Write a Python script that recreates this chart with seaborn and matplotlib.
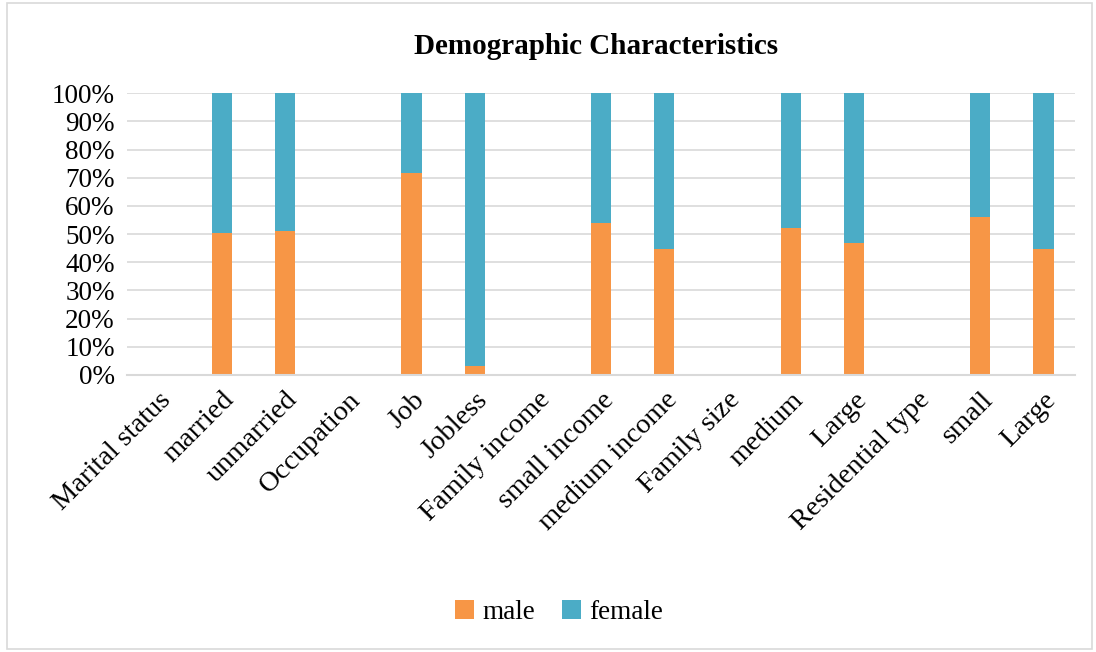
import numpy as np
import pandas as pd
import seaborn as sns
import matplotlib.pyplot as plt
from matplotlib.patches import Rectangle

categories = ['Marital status', 'married', 'unmarried', 'Occupation', 'Job', 'Jobless',
              'Family income', 'small income', 'medium income', 'Family size', 'medium',
              'Large', 'Residential type', 'small', 'Large']
# male share per category (header rows have no bar)
male = [np.nan, 50.5, 51.1, np.nan, 71.6, 3.0, np.nan, 53.9, 44.8, np.nan, 52.0, 46.7,
        np.nan, 55.9, 44.7]
female = [np.nan if np.isnan(m) else 100 - m for m in male]

df = pd.DataFrame({'pos': range(len(categories)), 'male': male, 'female': female})
df['total'] = df['male'] + df['female']

sns.set_style('white')
plt.rcParams['font.family'] = ['Liberation Serif', 'DejaVu Serif']
plt.rcParams['text.color'] = 'black'
plt.rcParams['xtick.color'] = 'black'
plt.rcParams['ytick.color'] = 'black'

fig = plt.figure(figsize=(10.96, 6.52), dpi=100)
ax = fig.add_axes([0.116, 0.425, 0.865, 0.432])

order = list(range(len(categories)))
sns.barplot(data=df, x='pos', y='total', order=order, color='#4BACC6', width=0.32,
            linewidth=0, saturation=1, ax=ax, label='female')
sns.barplot(data=df, x='pos', y='male', order=order, color='#F79646', width=0.32,
            linewidth=0, saturation=1, ax=ax, label='male')

handles, labels = ax.get_legend_handles_labels()
hmap = dict(zip(labels, handles))
if ax.get_legend() is not None:
    ax.get_legend().remove()

ax.set_ylim(0, 100)
ax.set_xlim(-0.5, len(categories) - 0.5)
ax.set_yticks(range(0, 101, 10))
ax.set_yticklabels([f'{v}%' for v in range(0, 101, 10)], fontsize=19.5)
ax.set_xticks(order)
ax.set_xticklabels(categories, rotation=45, ha='right', va='top', rotation_mode='anchor',
                   fontsize=20.5)
ax.tick_params(axis='both', length=0, pad=9)
ax.set_xlabel('')
ax.set_ylabel('')
ax.grid(axis='y', color='#d9d9d9', linewidth=1.2)
ax.set_axisbelow(True)
for s in ['top', 'right', 'left']:
    ax.spines[s].set_visible(False)
ax.spines['bottom'].set_color('#d9d9d9')
ax.spines['bottom'].set_linewidth(1.5)

fig.text(0.544, 0.928, 'Demographic Characteristics', ha='center', va='center',
         fontsize=21, fontweight='bold')

fig.legend([hmap['male'], hmap['female']], ['male', 'female'], loc='center',
           bbox_to_anchor=(0.51, 0.061), ncol=2, frameon=False, fontsize=19.5,
           handlelength=0.7, handleheight=0.7, handletextpad=0.3, columnspacing=1.0)

fig.patches.append(Rectangle((0.006, 0.005), 0.99, 0.99, transform=fig.transFigure,
                             fill=False, edgecolor='#d9d9d9', linewidth=1.2))

fig.savefig('out.png', dpi=100)
